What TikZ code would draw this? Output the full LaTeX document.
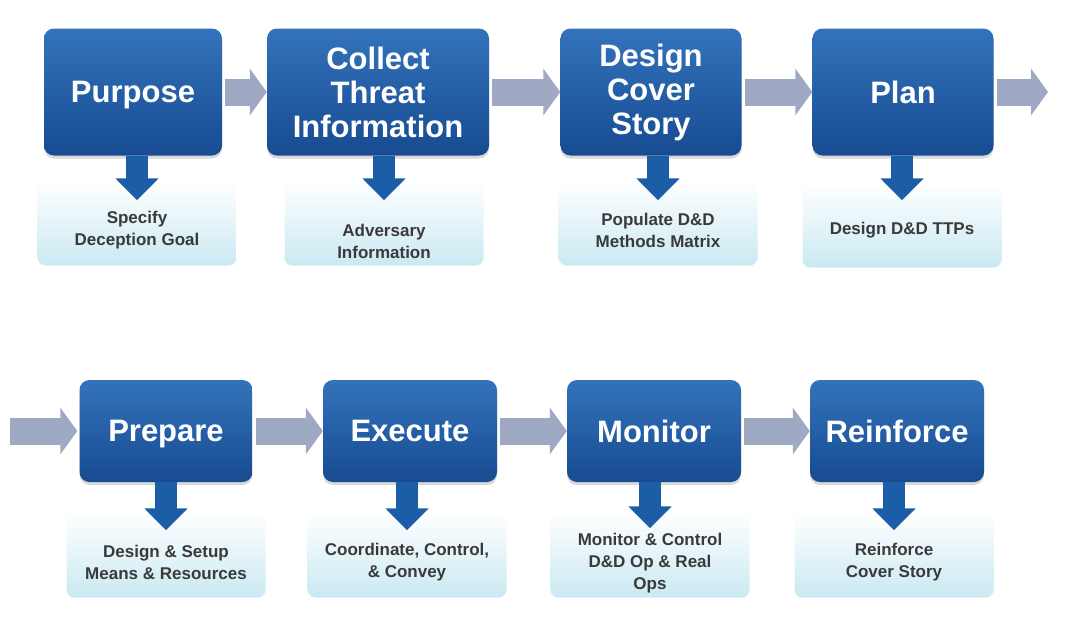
\documentclass[tikz,border=0pt]{standalone}
\usepackage{fontspec}
\setmainfont{Liberation Sans}
\usetikzlibrary{arrows.meta}
\usetikzlibrary{shadows}

\definecolor{stageTop}{HTML}{3373BB}
\definecolor{stageBot}{HTML}{174B92}
\definecolor{noteBot}{HTML}{CAE9F2}
\definecolor{flowGray}{HTML}{A0A9C3}
\definecolor{dropBlue}{HTML}{1B5DA6}
\definecolor{noteText}{HTML}{3A3A3A}

\begin{document}
\begin{tikzpicture}[x=1pt, y=-1pt,
    stage/.style={rounded corners=10pt, top color=stageTop, bottom color=stageBot,
        text=white, font=\fontsize{31}{34}\selectfont\bfseries, align=center,
        inner sep=0pt, drop shadow={opacity=0.3, shadow xshift=0pt, shadow yshift=-3pt}},
    note/.style={rounded corners=8pt, top color=white, bottom color=noteBot,
        minimum width=199pt, minimum height=85pt, inner sep=0pt},
    notetext/.style={text=noteText, font=\fontsize{17}{22}\selectfont\bfseries, align=center},
    flow/.style={draw=flowGray, line width=27pt, -{Triangle[length=17pt, width=46pt]}},
    drop/.style={draw=dropBlue, line width=22pt, -{Triangle[length=22pt, width=42pt]}}]

    \useasboundingbox (0,0) rectangle (1065,622);

    % Top row
    \node[stage, minimum width=178pt, minimum height=127pt, text depth=0pt] (purpose) at (133,92) {Purpose};
    \node[stage, minimum width=222pt, minimum height=127pt] (collect) at (378,92) {Collect\\Threat\\Information};
    \node[stage, minimum width=181pt, minimum height=127pt] (design) at (651,92) {Design\\Cover\\Story};
    \node[stage, minimum width=181pt, minimum height=127pt] (plan) at (903,92) {Plan};

    % Bottom row
    \node[stage, minimum width=173pt, minimum height=102pt, text depth=0pt] (prepare) at (166,431) {Prepare};
    \node[stage, minimum width=174pt, minimum height=102pt] (execute) at (410,431) {Execute};
    \node[stage, minimum width=174pt, minimum height=102pt] (monitor) at (654,431) {Monitor};
    \node[stage, minimum width=174pt, minimum height=102pt] (reinforce) at (897,431) {Reinforce};

    % Notes under the top row
    \node[note] (goal) at (137,223) {};
    \node[note] (adversary) at (384,223) {};
    \node[note] (matrix) at (658,223) {};
    \node[note] (ttps) at (902,225) {};

    % Notes under the bottom row
    \node[note] (means) at (166,555) {};
    \node[note] (convey) at (407,555) {};
    \node[note] (control) at (650,555) {};
    \node[note] (cover) at (894,555) {};

    % Flow arrows
    \coordinate (enter) at (10,431);
    \coordinate (leave) at (1048,92);
    \draw[flow] ([xshift=3pt]purpose.east) -- (collect.west);
    \draw[flow] ([xshift=3pt]collect.east) -- (design.west);
    \draw[flow] ([xshift=3pt]design.east) -- (plan.west);
    \draw[flow] ([xshift=3pt]plan.east) -- (leave);
    \draw[flow] (enter) -- ([xshift=-2pt]prepare.west);
    \draw[flow] ([xshift=3pt]prepare.east) -- (execute.west);
    \draw[flow] ([xshift=3pt]execute.east) -- (monitor.west);
    \draw[flow] ([xshift=3pt]monitor.east) -- (reinforce.west);

    % Down arrows
    \draw[drop] (purpose.south -| goal.north) -- ([yshift=-20pt]goal.north);
    \draw[drop] (collect.south -| adversary.north) -- ([yshift=-20pt]adversary.north);
    \draw[drop] (design.south -| matrix.north) -- ([yshift=-20pt]matrix.north);
    \draw[drop] (plan.south -| ttps.north) -- ([yshift=-18pt]ttps.north);
    \draw[drop] (prepare.south -| means.north) -- ([yshift=-18pt]means.north);
    \draw[drop] (execute.south -| convey.north) -- ([yshift=-18pt]convey.north);
    \draw[drop] (monitor.south -| control.north) -- ([yshift=-16pt]control.north);
    \draw[drop] (reinforce.south -| cover.north) -- ([yshift=-18pt]cover.north);

    % Note texts
    \node[notetext] (goaltxt) at (137,230) {Specify\\Deception Goal};
    \node[notetext] (adversarytxt) at (384,241) {Adversary\\Information};
    \node[notetext] (matrixtxt) at (658,230) {Populate D\&D\\Methods Matrix};
    \node[notetext] (ttpstxt) at (902,230) {Design D\&D TTPs};
    \node[notetext] (meanstxt) at (166,562) {Design \& Setup\\Means \& Resources};
    \node[notetext] (conveytxt) at (407,562) {Coordinate, Control,\\\& Convey};
    \node[notetext] (controltxt) at (650,563) {Monitor \& Control\\D\&D Op \& Real\\Ops};
    \node[notetext] (covertxt) at (894,562) {Reinforce\\Cover Story};

\end{tikzpicture}
\end{document}
